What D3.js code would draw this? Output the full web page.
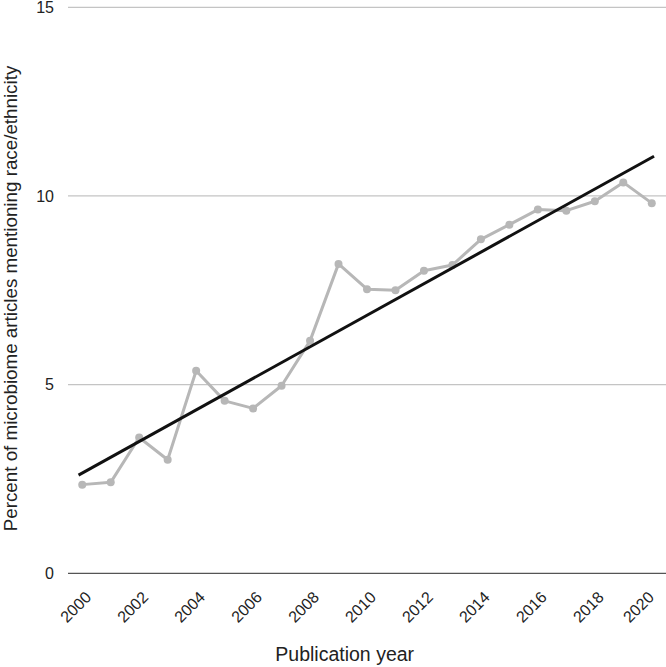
<!DOCTYPE html>
<html>
<head>
<meta charset="utf-8">
<script src="https://cdn.jsdelivr.net/npm/d3@7"></script>
<style>
  body { margin: 0; background: #fff; }
  svg { display: block; font-family: "Liberation Sans", Arial, sans-serif; }
</style>
</head>
<body>
<svg width="666" height="667"></svg>
<script>
// data
const years = [2000, 2001, 2002, 2003, 2004, 2005, 2006, 2007, 2008, 2009, 2010,
               2011, 2012, 2013, 2014, 2015, 2016, 2017, 2018, 2019, 2020]
const percent = [2.35, 2.41, 3.60, 3.01, 5.37, 4.57, 4.37, 4.97, 6.16, 8.20, 7.53,
                 7.50, 8.02, 8.17, 8.85, 9.24, 9.64, 9.61, 9.86, 10.36, 9.81]
const yTicks = [0, 5, 10, 15]
const xTickLabels = [2000, 2002, 2004, 2006, 2008, 2010, 2012, 2014, 2016, 2018, 2020]

const svg = d3.select('svg')
const width = +svg.attr('width')
const height = +svg.attr('height')

const margin = {top: 7.3, right: 0, bottom: 93.7, left: 68}
const innerWidth = width - margin.left - margin.right
const innerHeight = height - margin.top - margin.bottom

const xScale = d3.scalePoint()
    .domain(years)
    .range([0, innerWidth])
    .padding(0.5)

const yScale = d3.scaleLinear()
    .domain([0, 15])
    .range([innerHeight, 0])

const g = svg.append('g')
    .attr('transform', `translate(${margin.left},${margin.top})`)

// gridlines, baseline darker
g.selectAll('.grid').data(yTicks)
  .enter().append('line')
    .attr('x1', 0).attr('x2', innerWidth)
    .attr('y1', d => yScale(d)).attr('y2', d => yScale(d))
    .attr('stroke', d => d === 0 ? '#555' : '#c4c4c4')
    .attr('stroke-width', 1.2)

// y labels
g.selectAll('.ylab').data(yTicks)
  .enter().append('text')
    .attr('x', -14)
    .attr('y', d => yScale(d))
    .attr('dy', '0.35em')
    .attr('text-anchor', 'end')
    .attr('font-size', 16)
    .attr('fill', '#222')
    .text(d => d)

// x labels, rotated
g.selectAll('.xlab').data(xTickLabels)
  .enter().append('text')
    .attr('transform', d => `translate(${Math.min(xScale(d) + 10, 587)},${innerHeight + 25}) rotate(-45)`)
    .attr('text-anchor', 'end')
    .attr('font-size', 16)
    .attr('fill', '#222')
    .text(d => d)

// data line
const points = years.map((y, i) => ({year: y, value: percent[i]}))
const line = d3.line()
    .x(d => xScale(d.year))
    .y(d => yScale(d.value))

g.append('path')
    .datum(points)
    .attr('d', line)
    .attr('fill', 'none')
    .attr('stroke', '#b7b7b7')
    .attr('stroke-width', 3)
    .attr('stroke-linejoin', 'round')

g.selectAll('circle').data(points)
  .enter().append('circle')
    .attr('cx', d => xScale(d.year))
    .attr('cy', d => yScale(d.value))
    .attr('r', 4)
    .attr('fill', '#b7b7b7')

// linear trendline (least squares)
const meanX = d3.mean(years)
const meanY = d3.mean(percent)
const slope = d3.sum(years, (x, i) => (x - meanX) * (percent[i] - meanY)) /
              d3.sum(years, x => (x - meanX) ** 2)
const fit = x => meanY + slope * (x - meanX)
const step = xScale.step()
const x0 = years[0], x1 = years[years.length - 1]

g.append('line')
    .attr('x1', xScale(x0) - 0.13 * step)
    .attr('y1', yScale(fit(x0 - 0.13)))
    .attr('x2', xScale(x1) + 0.08 * step)
    .attr('y2', yScale(fit(x1 + 0.08)))
    .attr('stroke', '#111')
    .attr('stroke-width', 3)

// axis titles
svg.append('text')
    .attr('x', 344.7)
    .attr('y', 661)
    .attr('text-anchor', 'middle')
    .attr('font-size', 19.5)
    .attr('fill', '#222')
    .text('Publication year')

svg.append('text')
    .attr('transform', 'translate(16.5,298.5) rotate(-90)')
    .attr('text-anchor', 'middle')
    .attr('font-size', 18.8)
    .attr('fill', '#222')
    .text('Percent of microbiome articles mentioning race/ethnicity')
</script>
</body>
</html>
